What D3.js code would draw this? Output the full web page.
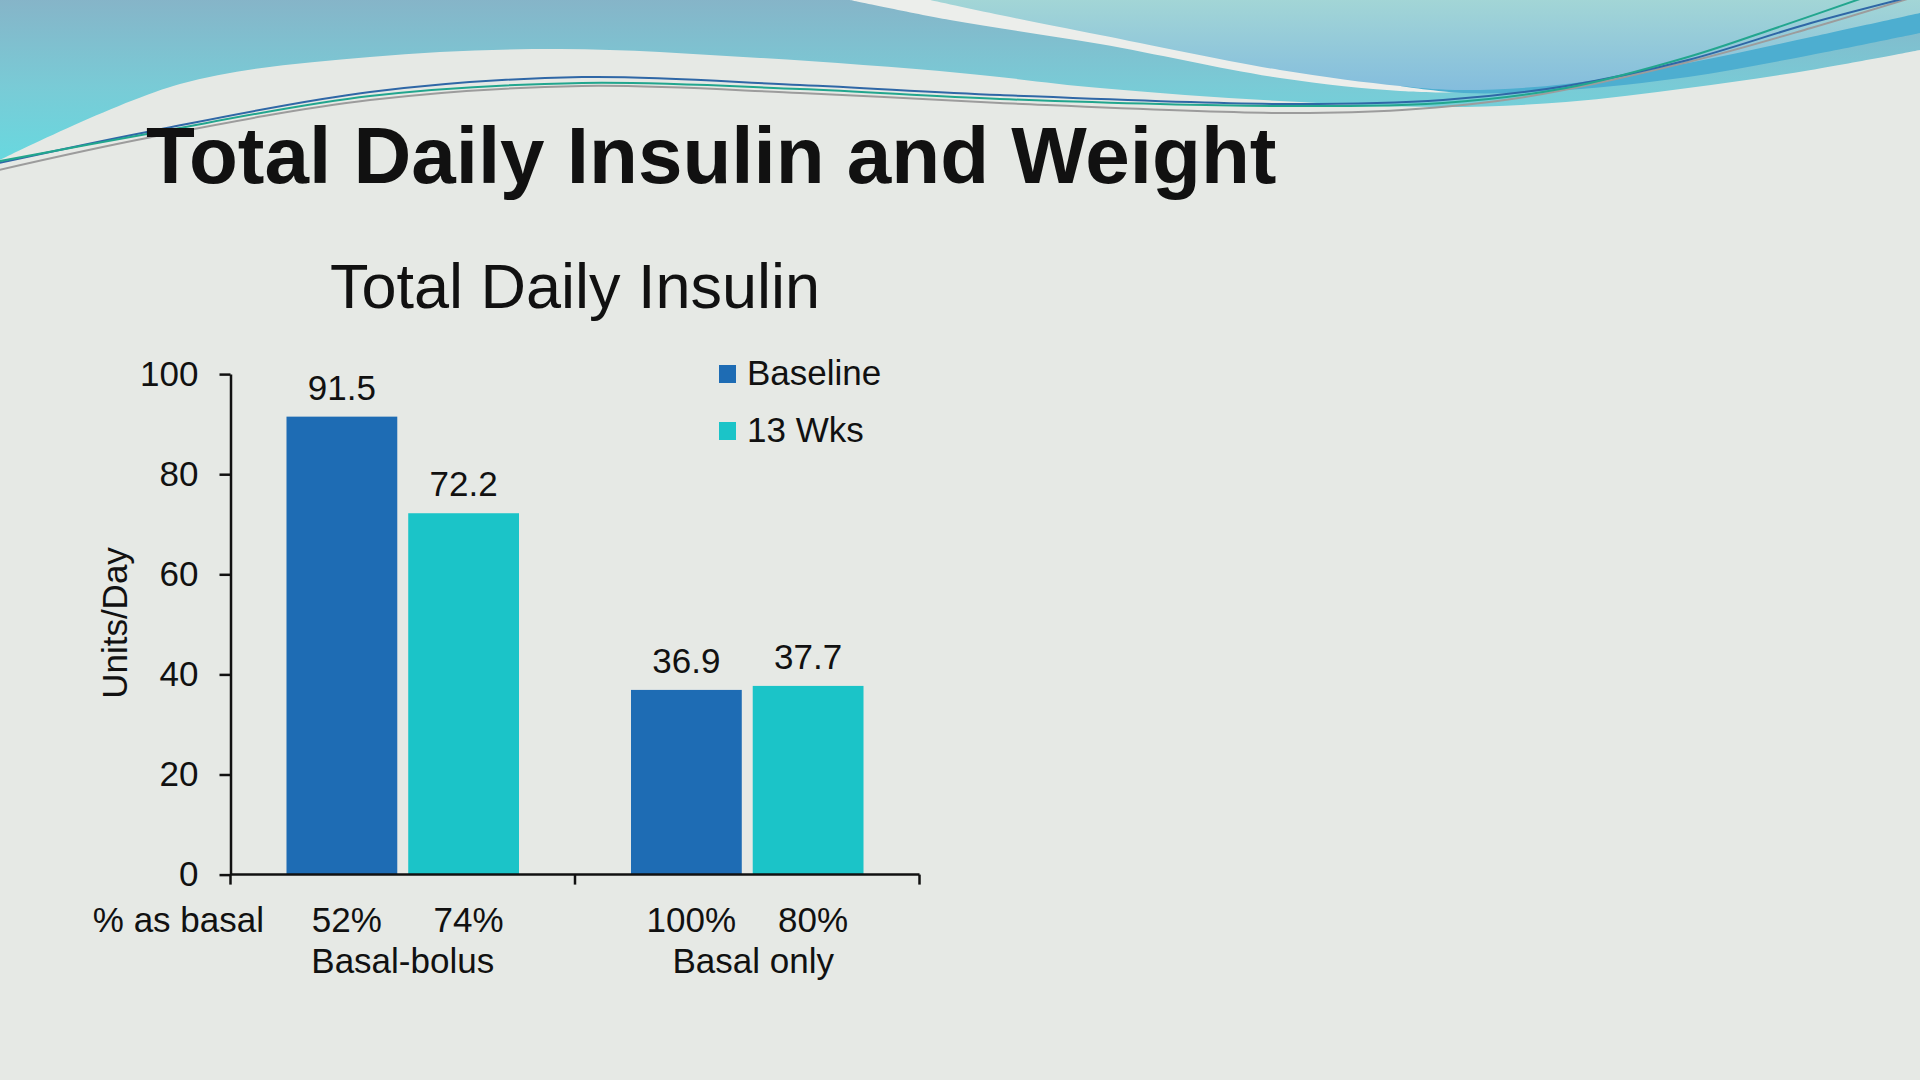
<!DOCTYPE html>
<html>
<head>
<meta charset="utf-8">
<script src="https://cdn.jsdelivr.net/npm/d3@7"></script>
<style>
  html, body { margin: 0; padding: 0; background: #e6e9e5; }
  svg { display: block; }
  text { font-family: "Liberation Sans", Arial, sans-serif; fill: #111; }
</style>
</head>
<body>
<svg id="slide" width="1920" height="1080"></svg>
<script>
// chart data
const groups = ["Basal-bolus", "Basal only"];
const seriesNames = ["Baseline", "13 Wks"];
const baselineVals = [91.5, 36.9];
const wk13Vals = [72.2, 37.7];
const pctBasal = [["52%", "74%"], ["100%", "80%"]];
const yTicks = [0, 20, 40, 60, 80, 100];
const barColors = ["#1e6cb4", "#1bc4c8"];

// decoration (wave header), not data
const waveA = [[0,160],[180,84],[370,57],[560,49],[760,58],[960,73],[1100,88],[1280,101],[1443,107],[1566,102],[1688,88],[1811,70],[1920,50]];
const waveW = [[850,0],[950,20],[1100,44],[1280,78],[1400,91],[1464,92],[1566,84],[1688,63],[1811,37],[1920,13]];
const waveD = [[1400,86],[1464,93],[1566,90],[1688,77],[1811,55],[1920,33]];
const waveC = [[930,0],[1000,15],[1100,35],[1280,70],[1400,86],[1464,90],[1566,84],[1688,63],[1811,37],[1920,13]];
const lineBlue = [[-10,165],[147,132],[370,92],[582,77],[800,85],[1000,95],[1280,104],[1443,100],[1566,86],[1688,60],[1811,23],[1930,-8]];
const lineGreen = [[-10,163],[147,134],[370,96],[582,83],[800,89],[1000,99],[1280,106],[1443,103],[1566,88],[1688,57],[1770,30],[1880,-8]];
const lineGray = [[-10,172],[147,138],[370,100],[582,86],[800,93],[1000,103],[1280,113],[1402,110],[1525,97],[1688,62],[1811,28],[1930,-8]];

const svg = d3.select("#slide");
const defs = svg.append("defs");

function grad(id, stops){
  const g = defs.append("linearGradient").attr("id", id)
    .attr("x1", 0).attr("y1", 0).attr("x2", 0).attr("y2", 1);
  stops.forEach(s => g.append("stop").attr("offset", s[0]).attr("stop-color", s[1]));
}
grad("gA", [[0, "#86b4c8"], [0.55, "#79cbd6"], [1, "#68d8df"]]);
grad("gC", [[0, "#a3d6d6"], [1, "#84bddd"]]);

const curve = d3.line().curve(d3.curveCatmullRom.alpha(0.5));

// area hanging from the top edge, bottom follows the points
function topArea(pts){
  const first = pts[0], last = pts[pts.length - 1];
  return "M" + first[0] + ",-2" + "L" + curve(pts).slice(1) + "L" + last[0] + ",-2Z";
}

svg.append("rect").attr("width", 1920).attr("height", 1080).attr("fill", "#e6e9e5");

const header = svg.append("g");
header.append("path").attr("d", topArea(waveA)).attr("fill", "url(#gA)");
header.append("path").attr("d", topArea(waveW)).attr("fill", "#eceeeb");
header.append("path").attr("d", topArea(waveD)).attr("fill", "#4daed0");
header.append("path").attr("d", topArea(waveC)).attr("fill", "url(#gC)");
header.append("path").attr("d", curve(lineGray)).attr("fill", "none").attr("stroke", "#9c9c9c").attr("stroke-width", 2);
header.append("path").attr("d", curve(lineBlue)).attr("fill", "none").attr("stroke", "#2f67a6").attr("stroke-width", 2);
header.append("path").attr("d", curve(lineGreen)).attr("fill", "none").attr("stroke", "#22a68e").attr("stroke-width", 2);

// slide title
svg.append("text")
  .attr("x", 146).attr("y", 183)
  .style("font-size", "80px").style("font-weight", "bold")
  .text("Total Daily Insulin and Weight");

// chart
const y = d3.scaleLinear().domain([0, 100]).range([874.6, 374.1]);
const x0 = d3.scaleBand().domain(groups).range([230.5, 919.5]).padding(0);
const x1 = d3.scaleBand().domain(seriesNames).range([0, x0.bandwidth()])
  .paddingInner(0.09).paddingOuter(0.46);

const chart = svg.append("g");

chart.append("text")
  .attr("x", (x0.range()[0] + x0.range()[1]) / 2).attr("y", 308)
  .attr("text-anchor", "middle")
  .style("font-size", "63px")
  .text("Total Daily Insulin");

const rows = groups.map((g, i) => ({ group: g, values: [baselineVals[i], wk13Vals[i]], pct: pctBasal[i] }));

const grp = chart.selectAll(".grp").data(rows).enter().append("g")
  .attr("class", "grp")
  .attr("transform", d => "translate(" + x0(d.group) + ",0)");

grp.selectAll("rect").data(d => d.values.map((v, k) => ({ s: seriesNames[k], v: v, k: k })))
  .enter().append("rect")
  .attr("x", d => x1(d.s))
  .attr("y", d => y(d.v))
  .attr("width", x1.bandwidth())
  .attr("height", d => y(0) - y(d.v))
  .attr("fill", d => barColors[d.k]);

grp.selectAll(".val").data(d => d.values.map((v, k) => ({ s: seriesNames[k], v: v })))
  .enter().append("text")
  .attr("class", "val")
  .attr("x", d => x1(d.s) + x1.bandwidth() / 2)
  .attr("y", d => y(d.v) - 17)
  .attr("text-anchor", "middle")
  .style("font-size", "35px")
  .text(d => d.v.toFixed(1));

grp.selectAll(".pct").data(d => d.pct.map((p, k) => ({ s: seriesNames[k], p: p })))
  .enter().append("text")
  .attr("class", "pct")
  .attr("x", d => x1(d.s) + x1.bandwidth() / 2 + 5)
  .attr("y", 932)
  .attr("text-anchor", "middle")
  .style("font-size", "35px")
  .text(d => d.p);

grp.append("text")
  .attr("x", (d, i) => x0.bandwidth() / 2 + i * 6)
  .attr("y", 973)
  .attr("text-anchor", "middle")
  .style("font-size", "35px")
  .text(d => d.group);

chart.append("text")
  .attr("x", 264).attr("y", 932)
  .attr("text-anchor", "end")
  .style("font-size", "35px")
  .text("% as basal");

// y axis
const yAxis = chart.append("g")
  .attr("transform", "translate(" + x0.range()[0] + ",0)")
  .call(d3.axisLeft(y).tickValues(yTicks).tickSize(11).tickSizeOuter(0).tickPadding(21));
yAxis.select(".domain").attr("stroke", "#111").attr("stroke-width", 2.5);
yAxis.selectAll(".tick line").attr("stroke", "#111").attr("stroke-width", 2.5);
yAxis.selectAll(".tick text")
  .style("font-size", "35px").style("font-family", "'Liberation Sans', Arial, sans-serif")
  .attr("fill", "#111");

chart.append("text")
  .attr("transform", "translate(127,623) rotate(-90)")
  .attr("text-anchor", "middle")
  .style("font-size", "35px")
  .text("Units/Day");

// x axis: baseline with ticks at the group edges
const edges = groups.map(g => x0(g)).concat([x0.range()[1]]);
chart.append("line")
  .attr("x1", x0.range()[0]).attr("x2", x0.range()[1])
  .attr("y1", y(0)).attr("y2", y(0))
  .attr("stroke", "#111").attr("stroke-width", 2.5);
chart.selectAll(".xtick").data(edges).enter().append("line")
  .attr("class", "xtick")
  .attr("x1", d => d).attr("x2", d => d)
  .attr("y1", y(0)).attr("y2", y(0) + 10)
  .attr("stroke", "#111").attr("stroke-width", 2.5);

// legend
const legend = chart.append("g").attr("transform", "translate(719,365)");
const li = legend.selectAll("g").data(seriesNames).enter().append("g")
  .attr("transform", (d, i) => "translate(0," + i * 57 + ")");
li.append("rect").attr("width", 17).attr("height", 18).attr("fill", (d, i) => barColors[i]);
li.append("text").attr("x", 28).attr("y", 19.5).style("font-size", "35px").text(d => d);
</script>
</body>
</html>
